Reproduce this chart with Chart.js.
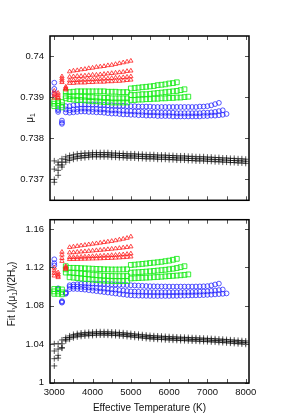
<!DOCTYPE html>
<html>
<head>
<meta charset="utf-8">
<script src="https://cdn.jsdelivr.net/npm/chart.js@4.4.1/dist/chart.umd.min.js"></script>
<style>
  html, body { margin: 0; padding: 0; background: #fff; }
  #wrap { position: relative; width: 300px; height: 420px; }
  canvas { position: absolute; left: 0; }
  #top { top: 0; }
  #bot { top: 208px; }
</style>
</head>
<body>
<div id="wrap">
  <canvas id="top" width="300" height="212"></canvas>
  <canvas id="bot" width="300" height="212"></canvas>
</div>
<script>
// effective temperature grid (K)
const teff = [3000,3100,3200,3300,3400,3500,3600,3700,3800,3900,
  4000,4100,4200,4300,4400,4500,4600,4700,4800,4900,
  5000,5100,5200,5300,5400,5500,5600,5700,5800,5900,
  6000,6100,6200,6300,6400,6500,6600,6700,6800,6900,
  7000,7100,7200,7300,7400,7500,7600,7700,7800,7900,
  8000];

const xTicks = [3000,3500,4000,4500,5000,5500,6000,6500,7000,7500,8000];
const xLabelTicks = [3000,4000,5000,6000,7000,8000];
const xLabels = ['3000','4000','5000','6000','7000','8000'];

const muTicks = [0.737,0.738,0.739,0.74];
const muLabels = ['0.737','0.738','0.739','0.74'];
const fitTicks = [1,1.04,1.08,1.12,1.16];
const fitLabels = ['1','1.04','1.08','1.12','1.16'];

// ---- top panel: mu_1 ----
const muBlackA = [0.73745,0.73742,0.7375,0.73755,0.73758,0.7376,0.73762,0.73763,0.73764,0.73764,
  0.73765,0.73765,0.73765,0.73765,0.73765,0.73764,0.73764,0.73763,0.73763,0.73762,
  0.73762,0.73762,0.73761,0.73761,0.7376,0.7376,0.7376,0.73759,0.73759,0.73759,
  0.73758,0.73758,0.73757,0.73757,0.73757,0.73756,0.73756,0.73755,0.73755,0.73755,
  0.73754,0.73754,0.73753,0.73753,0.73752,0.73752,0.73751,0.73751,0.7375,0.7375,
  0.73749];
const muBlackB = [0.73725,0.73735,0.73742,0.73748,0.73752,0.73754,0.73756,0.73757,0.73758,0.73759,
  0.7376,0.7376,0.7376,0.7376,0.7376,0.73759,0.73759,0.73758,0.73758,0.73757,
  0.73757,0.73757,0.73756,0.73756,0.73755,0.73755,0.73755,0.73754,0.73754,0.73754,
  0.73753,0.73753,0.73752,0.73752,0.73752,0.73751,0.73751,0.7375,0.7375,0.7375,
  0.73749,0.73749,0.73748,0.73748,0.73747,0.73747,0.73746,0.73746,0.73745,0.73745,
  0.73744];
const muBlackC = [0.737,0.73722,0.73735,0.73742,0.73746,0.73749,0.73751,0.73752,0.73753,0.73754,
  0.73755,0.73755,0.73755,0.73755,0.73755,0.73754,0.73754,0.73753,0.73753,0.73752,
  0.73752,0.73752,0.73751,0.73751,0.7375,0.7375,0.7375,0.73749,0.73749,0.73749,
  0.73748,0.73748,0.73747,0.73747,0.73747,0.73746,0.73746,0.73745,0.73745,0.73745,
  0.73744,0.73744,0.73743,0.73743,0.73742,0.73742,0.73741,0.73741,0.7374,0.7374,
  0.73739];
const muBlackD = [0.73693,0.7371,0.7373];

const muBlueA = [0.73935,0.73871,0.73843,0.73878,0.73878,0.7388,0.73881,0.73882,0.73882,0.73882,
  0.73882,0.73882,0.73881,0.73881,0.7388,0.7388,0.73879,0.73879,0.73879,0.73878,
  0.73878,0.73878,0.73877,0.73877,0.73877,0.73877,0.73876,0.73876,0.73876,0.73876,
  0.73876,0.73876,0.73876,0.73876,0.73876,0.73876,0.73876,0.73876,0.73877,0.73877,
  0.73878,0.7388,0.73883,0.73886];
const muBlueB = [0.7392,0.73868,0.73838,0.7387,0.73868,0.7387,0.73871,0.73872,0.73872,0.73872,
  0.73871,0.73871,0.7387,0.7387,0.73869,0.73868,0.73868,0.73867,0.73867,0.73866,
  0.73866,0.73865,0.73865,0.73864,0.73864,0.73863,0.73863,0.73863,0.73862,0.73862,
  0.73862,0.73862,0.73861,0.73861,0.73861,0.73861,0.73861,0.73861,0.73861,0.73862,
  0.73862,0.73863,0.73864,0.73866,0.73868];
const muBlueC = [0.73908,0.73864,0.73835,0.73863,0.73862,0.73863,0.73864,0.73865,0.73865,0.73864,
  0.73864,0.73863,0.73863,0.73862,0.73861,0.7386,0.7386,0.73859,0.73858,0.73858,
  0.73857,0.73857,0.73856,0.73856,0.73855,0.73855,0.73855,0.73854,0.73854,0.73854,
  0.73854,0.73853,0.73853,0.73853,0.73853,0.73853,0.73853,0.73853,0.73853,0.73854,
  0.73854,0.73855,0.73855,0.73856,0.73857,0.73859];

const muGreenA = [0.7389,0.7389,0.73888,0.73913,0.73912,0.73913,0.73914,0.73914,0.73914,0.73914,
  0.73914,0.73914,0.73914,0.73914,0.73913,0.73913,0.73913,0.73912,0.73912,0.73912,
  0.73921,0.73922,0.73923,0.73924,0.73925,0.73926,0.73927,0.73929,0.7393,0.73931,
  0.73933,0.73934,0.73936];
const muGreenB = [0.73884,0.73885,0.7388,0.73903,0.73902,0.73902,0.73902,0.73901,0.73901,0.739,
  0.739,0.73899,0.73899,0.73898,0.73898,0.73897,0.73897,0.73897,0.73897,0.73897,
  0.73905,0.73905,0.73906,0.73907,0.73907,0.73908,0.73909,0.7391,0.73911,0.73912,
  0.73913,0.73914,0.73915,0.73917,0.73919];
const muGreenC = [0.73878,0.73879,0.73875,0.73897,0.73895,0.73894,0.73893,0.73893,0.73892,0.73891,
  0.7389,0.7389,0.73889,0.73888,0.73888,0.73887,0.73887,0.73887,0.73887,0.73887,
  0.73893,0.73893,0.73894,0.73894,0.73895,0.73895,0.73896,0.73896,0.73897,0.73897,
  0.73898,0.73898,0.73899,0.73899,0.739,0.73901];

const muRedA = [0.73915,0.7391,0.7395,0.73925,0.73962,0.73964,0.73965,0.73967,0.73968,0.7397,
  0.73971,0.73973,0.73974,0.73975,0.73977,0.73978,0.7398,0.73982,0.73984,0.73986,
  0.73988];
const muRedB = [0.73908,0.73905,0.73945,0.73922,0.73949,0.7395,0.73951,0.73951,0.73952,0.73953,
  0.73954,0.73954,0.73955,0.73956,0.73957,0.73958,0.73959,0.7396,0.73961,0.73963,
  0.73964];
const muRedC = [0.73903,0.739,0.7394,0.7392,0.7394,0.73941,0.73941,0.73942,0.73942,0.73943,
  0.73943,0.73944,0.73944,0.73945,0.73945,0.73946,0.73947,0.73947,0.73948,0.73949,
  0.7395];
const muRedD = [0.73898,0.73897,0.73936,0.73918,0.73934,0.73934,0.73935,0.73935,0.73935,0.73936,
  0.73936,0.73937,0.73937,0.73937,0.73938,0.73938,0.73939,0.73939,0.7394,0.73941,
  0.73942];

// ---- bottom panel: fit I_V(mu_1)/(2H_V) ----
const fitBlackA = [1.0405,1.0405,1.0445,1.047,1.0487,1.0502,1.0511,1.0517,1.0521,1.0524,
  1.0526,1.0529,1.053,1.053,1.0529,1.0527,1.0525,1.0522,1.0519,1.0515,
  1.0511,1.0507,1.0503,1.0499,1.0495,1.0491,1.0488,1.0486,1.0484,1.0481,
  1.0479,1.0477,1.0475,1.0473,1.0472,1.047,1.0468,1.0467,1.0465,1.0463,
  1.0461,1.0459,1.0457,1.0454,1.0452,1.0449,1.0446,1.0443,1.044,1.0437,
  1.0434];
const fitBlackB = [1.033,1.035,1.0405,1.0452,1.047,1.0485,1.0494,1.05,1.0504,1.0507,
  1.0509,1.0512,1.0513,1.0513,1.0512,1.051,1.0508,1.0505,1.0502,1.0498,
  1.0494,1.049,1.0486,1.0482,1.0478,1.0474,1.0471,1.0469,1.0467,1.0464,
  1.0462,1.046,1.0458,1.0456,1.0455,1.0453,1.0451,1.045,1.0448,1.0446,
  1.0444,1.0442,1.044,1.0437,1.0435,1.0432,1.0429,1.0426,1.0423,1.042,
  1.0417];
const fitBlackC = [1.025,1.0285,1.0365,1.0435,1.0453,1.0468,1.0477,1.0483,1.0487,1.049,
  1.0492,1.0495,1.0496,1.0496,1.0495,1.0493,1.0491,1.0488,1.0485,1.0481,
  1.0477,1.0473,1.0469,1.0465,1.0461,1.0457,1.0454,1.0452,1.045,1.0447,
  1.0445,1.0443,1.0441,1.0439,1.0438,1.0436,1.0434,1.0433,1.0431,1.0429,
  1.0427,1.0425,1.0423,1.042,1.0418,1.0415,1.0412,1.0409,1.0406,1.0403,
  1.04];
const fitBlackD = [1.0175,1.0256,1.036];

const fitBlueA = [1.1284,1.0982,1.0849,1.094,1.1014,1.102,1.1025,1.1028,1.103,1.1031,
  1.1031,1.103,1.1029,1.1028,1.1026,1.1024,1.1022,1.102,1.1018,1.1016,
  1.1014,1.1012,1.101,1.1008,1.1006,1.1004,1.1003,1.1002,1.1001,1.1001,
  1.1,1.1,1.1,1.1,1.1,1.1,1.1,1.1001,1.1002,1.1003,
  1.1005,1.1012,1.1022,1.1031];
const fitBlueB = [1.1244,1.0975,1.0841,1.0932,1.0997,1.1,1.1,1.0998,1.0995,1.0992,
  1.0989,1.0986,1.0983,1.0979,1.0976,1.0972,1.0968,1.0963,1.0958,1.0954,
  1.095,1.0948,1.0946,1.0945,1.0944,1.0943,1.0942,1.0941,1.0941,1.0941,
  1.0941,1.0941,1.0941,1.0942,1.0942,1.0943,1.0944,1.0945,1.0947,1.0949,
  1.0951,1.0955,1.0959,1.0964,1.097];
const fitBlueC = [1.122,1.097,1.0833,1.0925,1.0974,1.0976,1.0975,1.0972,1.0968,1.0963,
  1.0958,1.0953,1.0948,1.0943,1.0938,1.0933,1.0928,1.0923,1.0918,1.0913,
  1.0909,1.0907,1.0906,1.0905,1.0904,1.0903,1.0903,1.0903,1.0903,1.0903,
  1.0903,1.0904,1.0904,1.0905,1.0906,1.0907,1.0908,1.0909,1.091,1.0912,
  1.0914,1.0916,1.0919,1.0922,1.0925,1.0929];

const fitGreenA = [1.0975,1.0975,1.097,1.1212,1.1195,1.1195,1.1194,1.1192,1.119,1.1188,
  1.1186,1.1184,1.1182,1.118,1.1179,1.1178,1.1178,1.1178,1.1179,1.118,
  1.1225,1.1228,1.1232,1.1236,1.124,1.1245,1.1249,1.1253,1.1258,1.1264,
  1.127,1.1279,1.1289];
const fitGreenB = [1.095,1.095,1.094,1.118,1.1146,1.1143,1.114,1.1136,1.1132,1.1128,
  1.1124,1.112,1.1117,1.1114,1.1112,1.111,1.1109,1.1109,1.1109,1.111,
  1.1145,1.1148,1.115,1.1153,1.1156,1.1159,1.1163,1.1167,1.1171,1.1175,
  1.118,1.1186,1.1193,1.1202,1.1212];
const fitGreenC = [1.0925,1.0925,1.092,1.1146,1.1097,1.1093,1.1089,1.1085,1.108,1.1076,
  1.1072,1.1068,1.1065,1.1062,1.106,1.1058,1.1057,1.1057,1.1057,1.1058,
  1.1085,1.1087,1.1089,1.1091,1.1093,1.1095,1.1098,1.11,1.1103,1.1106,
  1.1109,1.1112,1.1115,1.1118,1.1122,1.1127];

const fitRedA = [1.1195,1.1146,1.136,1.1212,1.1409,1.1415,1.1421,1.1427,1.1432,1.1438,
  1.1444,1.1449,1.1455,1.1461,1.1467,1.1473,1.148,1.1488,1.1496,1.1505,
  1.152];
const fitRedB = [1.1165,1.1125,1.133,1.12,1.1353,1.1356,1.136,1.1363,1.1366,1.137,
  1.1373,1.1377,1.138,1.1384,1.1388,1.1392,1.1396,1.14,1.1405,1.141,
  1.1416];
const fitRedC = [1.114,1.111,1.1295,1.119,1.1304,1.1306,1.1307,1.1309,1.1311,1.1313,
  1.1315,1.1317,1.1319,1.1321,1.1323,1.1326,1.1328,1.1331,1.1334,1.1338,
  1.1343];
const fitRedD = [1.1113,1.1096,1.1265,1.1182,1.1284,1.1285,1.1286,1.1287,1.1288,1.1289,
  1.129,1.1291,1.1292,1.1294,1.1295,1.1297,1.1299,1.1301,1.1304,1.1307,
  1.1311];

const FONT = '"Liberation Sans", Arial, Helvetica, sans-serif';

const styles = {
  red:   { pointStyle: 'triangle', pointRadius: 2.5, borderColor: 'rgba(255,30,30,0.8)' },
  green: { pointStyle: 'rect', pointRadius: 3.4, borderColor: 'rgba(20,235,20,0.85)' },
  blue:  { pointStyle: 'circle', pointRadius: 2.4, borderColor: 'rgba(20,20,255,0.7)' },
  black: { pointStyle: 'cross', pointRadius: 3, borderColor: 'rgba(0,0,0,0.65)' },
};

function series(vals, kind) {
  const s = styles[kind];
  return {
    data: vals.map((v, i) => ({ x: teff[i], y: v })),
    pointStyle: s.pointStyle,
    pointRadius: s.pointRadius,
    pointBorderColor: s.borderColor,
    pointBackgroundColor: 'rgba(0,0,0,0)',
    pointBorderWidth: 1,
    showLine: false,
  };
}

function drawRich(ctx, parts, cx, cy) {
  ctx.save();
  ctx.translate(cx, cy);
  ctx.rotate(-Math.PI / 2);
  const big = '10px ' + FONT, small = '7px ' + FONT;
  let w = 0;
  parts.forEach(p => { ctx.font = p[1] ? small : big; w += ctx.measureText(p[0]).width; });
  let x = -w / 2;
  ctx.textBaseline = 'middle';
  ctx.fillStyle = '#111';
  parts.forEach(p => {
    ctx.font = p[1] ? small : big;
    ctx.fillText(p[0], x, p[1] ? 3 : 0);
    x += ctx.measureText(p[0]).width;
  });
  ctx.restore();
}

// gnuplot-like box with inward ticks on all sides
const framePlugin = {
  id: 'frame',
  afterDraw(chart, args, opts) {
    const { ctx, chartArea: a, scales: { x, y } } = chart;
    ctx.save();
    ctx.strokeStyle = '#555';
    ctx.lineWidth = 1;
    ctx.beginPath();
    xTicks.forEach(v => {
      const px = Math.round(x.getPixelForValue(v)) + 0.5;
      ctx.moveTo(px, a.bottom); ctx.lineTo(px, a.bottom - 4);
      ctx.moveTo(px, a.top); ctx.lineTo(px, a.top + 4);
    });
    opts.yTicks.forEach(v => {
      const py = Math.round(y.getPixelForValue(v)) + 0.5;
      ctx.moveTo(a.left, py); ctx.lineTo(a.left + 4, py);
      ctx.moveTo(a.right, py); ctx.lineTo(a.right - 4, py);
    });
    ctx.stroke();
    ctx.strokeStyle = '#000';
    ctx.lineWidth = 1.5;
    ctx.strokeRect(a.left, a.top, a.right - a.left, a.bottom - a.top);
    ctx.restore();
    drawRich(ctx, opts.title, opts.tx, opts.ty);
  }
};

function makeChart(id, sets, cfg) {
  return new Chart(document.getElementById(id), {
    type: 'scatter',
    data: { datasets: sets },
    plugins: [framePlugin],
    options: {
      responsive: false,
      animation: false,
      events: [],
      layout: { padding: cfg.padding },
      plugins: {
        legend: { display: false },
        tooltip: { enabled: false },
        frame: { yTicks: cfg.yTicks, title: cfg.title, tx: cfg.tx, ty: cfg.ty },
      },
      scales: {
        x: {
          type: 'linear', min: 2888, max: 8086,
          grid: { display: false, drawTicks: false },
          border: { display: false },
          afterFit: s => { s.height = cfg.xHeight; },
          afterBuildTicks: s => { s.ticks = xLabelTicks.map(v => ({ value: v })); },
          ticks: {
            display: cfg.xLabels,
            padding: 4,
            color: '#111',
            font: { family: FONT, size: 9.5 },
            callback: (v, i) => xLabels[i],
          },
          title: {
            display: cfg.xLabels,
            text: 'Effective Temperature (K)',
            color: '#111',
            font: { family: FONT, size: 10 },
            padding: { top: 0, bottom: 6 },
          },
        },
        y: {
          type: 'linear', min: cfg.yMin, max: cfg.yMax,
          grid: { display: false, drawTicks: false },
          border: { display: false },
          afterFit: s => { s.width = 50; },
          afterBuildTicks: s => { s.ticks = cfg.yTicks.map(v => ({ value: v })); },
          ticks: {
            padding: 6,
            color: '#111',
            font: { family: FONT, size: 9.5 },
            callback: (v, i) => cfg.yLabels[i],
          },
        },
      },
    },
  });
}

makeChart('top', [
  series(muRedA, 'red'), series(muRedB, 'red'), series(muRedC, 'red'), series(muRedD, 'red'),
  series(muGreenA, 'green'), series(muGreenB, 'green'), series(muGreenC, 'green'),
  series(muBlueA, 'blue'), series(muBlueB, 'blue'), series(muBlueC, 'blue'),
  series(muBlackA, 'black'), series(muBlackB, 'black'), series(muBlackC, 'black'), series(muBlackD, 'black'),
], {
  padding: { top: 36, right: 51, bottom: 3, left: 0 },
  xHeight: 0, xLabels: false,
  yMin: 0.736492, yMax: 0.740485,
  yTicks: muTicks, yLabels: muLabels,
  title: [['μ', 0], ['1', 1]], tx: 30, ty: 118,
});

makeChart('bot', [
  series(fitRedA, 'red'), series(fitRedB, 'red'), series(fitRedC, 'red'), series(fitRedD, 'red'),
  series(fitGreenA, 'green'), series(fitGreenB, 'green'), series(fitGreenC, 'green'),
  series(fitBlueA, 'blue'), series(fitBlueB, 'blue'), series(fitBlueC, 'blue'),
  series(fitBlackA, 'black'), series(fitBlackB, 'black'), series(fitBlackC, 'black'), series(fitBlackD, 'black'),
], {
  padding: { top: 3, right: 51, bottom: 0, left: 0 },
  xHeight: 37, xLabels: true,
  yMin: 0.9997, yMax: 1.1696,
  yTicks: fitTicks, yLabels: fitLabels,
  title: [['Fit I', 0], ['V', 1], ['(μ', 0], ['1', 1], [')/(2H', 0], ['V', 1], [')', 0]], tx: 12, ty: 86,
});
</script>
</body>
</html>
